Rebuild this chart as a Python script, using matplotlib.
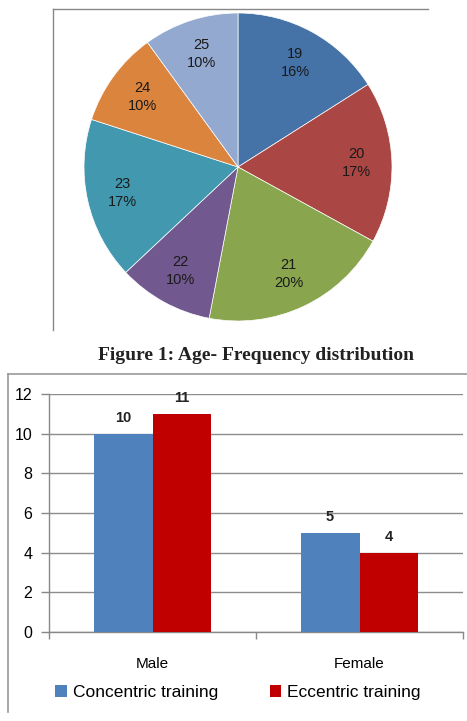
import matplotlib.pyplot as plt
from matplotlib.lines import Line2D
import numpy as np

W, H = 467, 721

ages = ['19', '20', '21', '22', '23', '24', '25']
age_pct = [16, 17, 20, 10, 17, 10, 10]
pie_colors = ['#4572A7', '#AA4643', '#89A54E', '#71588F', '#4198AF', '#DB843D', '#93A9CF']

groups = ['Male', 'Female']
concentric = [10, 5]
eccentric = [11, 4]

fig = plt.figure(figsize=(W / 100, H / 100), dpi=100)

def fx(x):
    return x / W

def fy(y):
    return 1 - y / H

# pie chart
cx, cy, r = 238, 167, 154
ax1 = fig.add_axes([fx(cx - r), fy(cy + r), 2 * r / W, 2 * r / H])
wedges, _ = ax1.pie(age_pct, colors=pie_colors, startangle=90, counterclock=False,
                    wedgeprops=dict(edgecolor='white', linewidth=0.5))
for w, a, p in zip(wedges, ages, age_pct):
    ang = np.deg2rad((w.theta1 + w.theta2) / 2)
    ax1.text(0.77 * np.cos(ang), 0.77 * np.sin(ang), f'{a}\n{p}%', ha='center', va='center',
             fontsize=10.5, color='#1a1a1a', family='Liberation Sans', linespacing=1.35)
ax1.set_xlim(-1, 1)
ax1.set_ylim(-1, 1)
ax1.set_aspect('auto')

# frame around pie
fig.add_artist(Line2D([fx(53), fx(53)], [fy(9), fy(330)], color='#888888', lw=1))
fig.add_artist(Line2D([fx(53), fx(428)], [fy(9), fy(9)], color='#888888', lw=1))

fig.text(fx(256), fy(355), 'Figure 1: Age- Frequency distribution', ha='center', va='center',
         fontsize=14, fontweight='bold', family='Liberation Serif', color='#222222')

# frame around bar chart
fig.add_artist(Line2D([fx(8), fx(8)], [fy(374), fy(712)], color='#999999', lw=1.2))
fig.add_artist(Line2D([fx(8), fx(467)], [fy(374), fy(374)], color='#999999', lw=1.2))

# bar chart
ax2 = fig.add_axes([fx(49), fy(632), (463 - 49) / W, (632 - 394) / H])
x = np.arange(len(groups))
bw = 0.285
b1 = ax2.bar(x - bw / 2, concentric, bw, color='#4F81BD', label='Concentric training', zorder=3)
b2 = ax2.bar(x + bw / 2, eccentric, bw, color='#C00000', label='Eccentric training', zorder=3)
for bars in (b1, b2):
    for b in bars:
        ax2.text(b.get_x() + b.get_width() / 2, b.get_height() + 0.45, f'{int(b.get_height())}',
                 ha='center', va='bottom', fontsize=10.5, fontweight='bold',
                 family='Liberation Sans', color='#222222')

ax2.set_xlim(-0.5, 1.5)
ax2.set_ylim(0, 12)
ax2.set_yticks(range(0, 13, 2))
ax2.yaxis.grid(True, color='#8c8c8c', lw=1, zorder=0)
ax2.set_xticks(x)
ax2.set_xticklabels(groups)
ax2.set_xticks([-0.5, 0.5, 1.5], minor=True)
ax2.tick_params(axis='x', which='major', length=0, pad=18, labelsize=11)
ax2.tick_params(axis='x', which='minor', length=5, color='#888888', width=1)
ax2.tick_params(axis='y', length=6, color='#888888', width=1, labelsize=11.5, pad=6)
for lbl in ax2.get_xticklabels() + ax2.get_yticklabels():
    lbl.set_family('Liberation Sans')
for s in ('top', 'right'):
    ax2.spines[s].set_visible(False)
for s in ('left', 'bottom'):
    ax2.spines[s].set_color('#888888')
    ax2.spines[s].set_linewidth(1)
ax2.set_facecolor('none')

ax2.legend(loc='center', bbox_to_anchor=(0.457, -0.255), ncol=2, frameon=False,
           prop=dict(family='Liberation Sans', size=12.5), handlelength=0.65, handleheight=0.7,
           handletextpad=0.35, columnspacing=3.0)

fig.savefig('out.png', dpi=100)
